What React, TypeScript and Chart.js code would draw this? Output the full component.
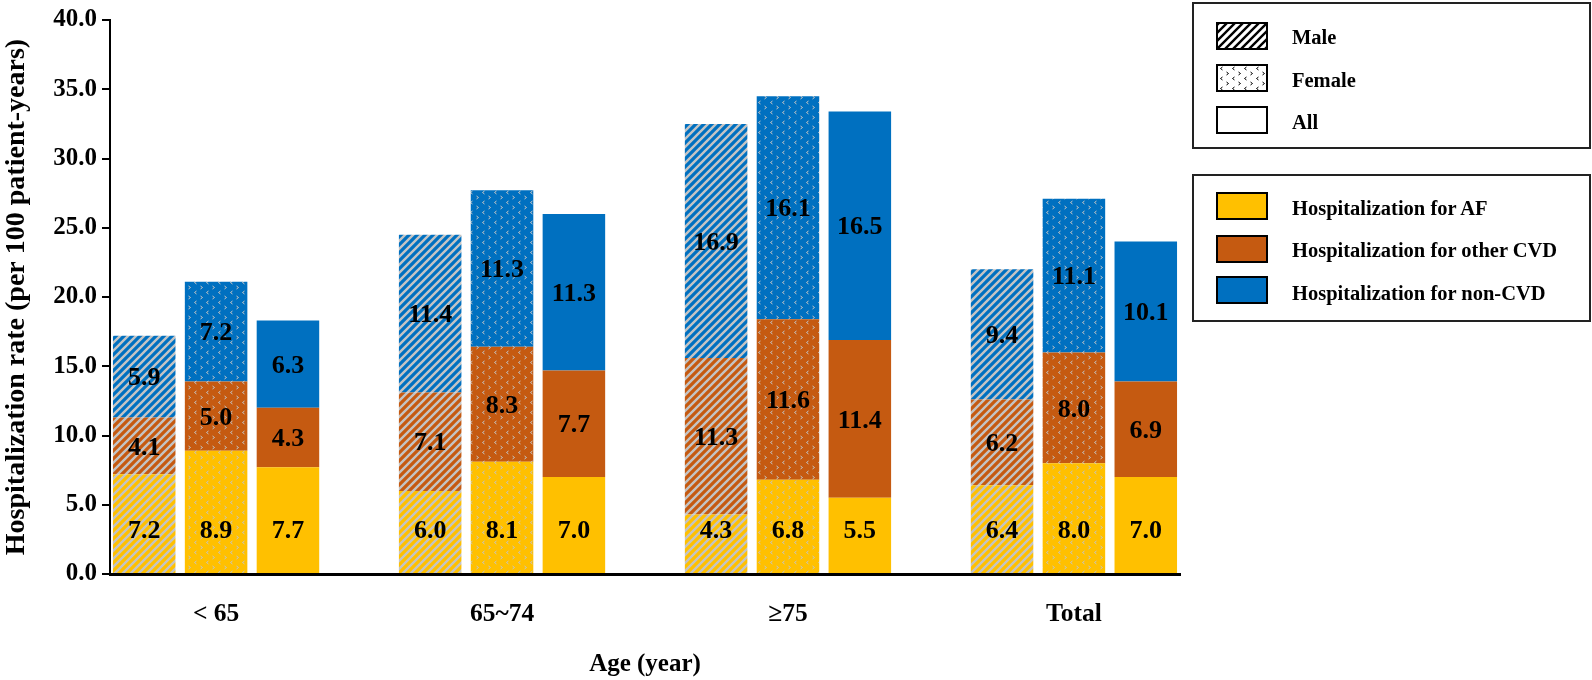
import React, { useEffect, useRef, useMemo } from 'react';
import { Chart, registerables } from 'chart.js';

Chart.register(...registerables);

const categories = ['< 65', '65~74', '≥75', 'Total'];
const sexGroups = ['Male', 'Female', 'All'];
const causeLabels = ['Hospitalization for AF', 'Hospitalization for other CVD', 'Hospitalization for non-CVD'];
const causeColors = ['#FFC000', '#C55A11', '#0070C0'];

const maleAF = [7.2, 6.0, 4.3, 6.4];
const maleOtherCVD = [4.1, 7.1, 11.3, 6.2];
const maleNonCVD = [5.9, 11.4, 16.9, 9.4];
const femaleAF = [8.9, 8.1, 6.8, 8.0];
const femaleOtherCVD = [5.0, 8.3, 11.6, 8.0];
const femaleNonCVD = [7.2, 11.3, 16.1, 11.1];
const allAF = [7.7, 7.0, 5.5, 7.0];
const allOtherCVD = [4.3, 7.7, 11.4, 6.9];
const allNonCVD = [6.3, 11.3, 16.5, 10.1];

const yMin = 0;
const yMax = 40;
const yStep = 5;

const seriesBySex = [
  [maleAF, maleOtherCVD, maleNonCVD],
  [femaleAF, femaleOtherCVD, femaleNonCVD],
  [allAF, allOtherCVD, allNonCVD],
];

const FONT = '"Liberation Serif", "Times New Roman", serif';

function makeTile(kind: string, base: string, mark: string): HTMLCanvasElement {
  const c = document.createElement('canvas');
  if (kind === 'hatch') {
    c.width = 8;
    c.height = 8;
    const g = c.getContext('2d')!;
    g.fillStyle = base;
    g.fillRect(0, 0, 8, 8);
    g.strokeStyle = mark;
    g.lineWidth = 2.4;
    g.beginPath();
    g.moveTo(-4, 4); g.lineTo(4, -4);
    g.moveTo(0, 8); g.lineTo(8, 0);
    g.moveTo(4, 12); g.lineTo(12, 4);
    g.stroke();
  } else if (kind === 'dots') {
    c.width = 12;
    c.height = 10;
    const g = c.getContext('2d')!;
    g.fillStyle = base;
    g.fillRect(0, 0, 12, 10);
    g.strokeStyle = mark;
    g.lineWidth = 1;
    g.beginPath();
    g.moveTo(4.5, 1); g.lineTo(2.5, 2.5); g.lineTo(4.5, 4);
    g.moveTo(8.5, 6); g.lineTo(10.5, 7.5); g.lineTo(8.5, 9);
    g.stroke();
  } else {
    c.width = 4;
    c.height = 4;
    const g = c.getContext('2d')!;
    g.fillStyle = base;
    g.fillRect(0, 0, 4, 4);
  }
  return c;
}

const labelPlugin = {
  id: 'segmentLabels',
  afterDatasetsDraw(chart: any) {
    const ctx = chart.ctx;
    ctx.save();
    ctx.font = `bold 26px ${FONT}`;
    ctx.fillStyle = '#000';
    ctx.textAlign = 'center';
    ctx.textBaseline = 'middle';
    chart.data.datasets.forEach((ds: any, i: number) => {
      const meta = chart.getDatasetMeta(i);
      meta.data.forEach((el: any, j: number) => {
        const v = ds.data[j].y;
        const p = el.getProps(['x', 'y', 'base'], true);
        // bottom segment labels sit at the inside base, others centred
        const yPos = ds.labelAnchor === 'insideBase' ? p.base - 42 : (p.y + p.base) / 2 + 2;
        ctx.fillText(v.toFixed(1), p.x, yPos);
      });
    });
    ctx.restore();
  },
};

export default function App() {
  const ref = useRef<HTMLCanvasElement | null>(null);

  const swatches = useMemo(() => {
    const hatch = makeTile('hatch', '#ffffff', '#000000').toDataURL();
    const dots = makeTile('dots', '#ffffff', '#000000').toDataURL();
    return { hatch, dots };
  }, []);

  useEffect(() => {
    if (!ref.current) return;
    const kinds = ['hatch', 'dots', 'solid'];
    const datasets: any[] = [];
    const ctx2 = ref.current.getContext('2d')!;
    seriesBySex.forEach((causes, si) => {
      causes.forEach((vals, ci) => {
        const tile = makeTile(kinds[si], causeColors[ci], '#C4C4C4');
        const pat = kinds[si] === 'solid' ? causeColors[ci] : ctx2.createPattern(tile, 'repeat');
        datasets.push({
          label: `${sexGroups[si]} - ${causeLabels[ci]}`,
          stack: sexGroups[si],
          data: vals.map((v, k) => ({ x: k, y: v })),
          backgroundColor: pat,
          borderWidth: 0,
          categoryPercentage: 0.754,
          barPercentage: 0.87,
          labelAnchor: ci === 0 ? 'insideBase' : 'center',
        });
      });
    });

    const chart = new Chart(ref.current, {
      type: 'bar',
      data: { datasets },
      options: {
        responsive: false,
        animation: false,
        layout: { padding: { top: 16, right: 412, left: 0, bottom: 0 } },
        plugins: { legend: { display: false }, tooltip: { enabled: false } },
        scales: {
          x: {
            type: 'linear',
            min: -0.371,
            max: 3.371,
            offset: false,
            grid: { display: false, drawTicks: false },
            border: { display: true, color: '#000', width: 3 },
            afterBuildTicks: (s: any) => {
              s.ticks = categories.map((_, i) => ({ value: i }));
            },
            afterFit: (s: any) => {
              s.height = 106;
            },
            ticks: {
              autoSkip: false,
              maxRotation: 0,
              padding: 25,
              color: '#000',
              font: { family: FONT, size: 25.5, weight: 'bold' },
              callback: (v: any) => categories[Number(v)] ?? '',
            },
            title: {
              display: true,
              text: 'Age (year)',
              color: '#000',
              font: { family: FONT, size: 25, weight: 'bold' },
              padding: { top: 0, bottom: 0 },
            },
          },
          y: {
            min: yMin,
            max: yMax,
            stacked: true,
            grid: { drawOnChartArea: false, drawTicks: true, tickLength: 8, color: '#000', lineWidth: 2 },
            border: { display: true, color: '#000', width: 2 },
            afterFit: (s: any) => {
              s.width = 110;
            },
            ticks: {
              stepSize: yStep,
              padding: 5,
              color: '#000',
              font: { family: FONT, size: 25, weight: 'bold' },
              callback: (v: any) => Number(v).toFixed(1),
            },
            title: {
              display: true,
              text: 'Hospitalization rate (per 100 patient-years)',
              color: '#000',
              font: { family: FONT, size: 28, weight: 'bold' },
              padding: { top: 0, bottom: 0 },
            },
          },
        },
      } as any,
      plugins: [labelPlugin],
    });
    return () => chart.destroy();
  }, []);

  const textStyle = (cy: number): React.CSSProperties => ({
    position: 'absolute',
    left: 1292,
    top: cy - 12,
    height: 24,
    lineHeight: '24px',
    fontFamily: FONT,
    fontWeight: 'bold',
    fontSize: 20.5,
    color: '#000',
    whiteSpace: 'nowrap',
  });
  const swStyle = (top: number, bg: string, img?: string): React.CSSProperties => ({
    position: 'absolute',
    left: 1216,
    top,
    width: 52,
    height: 28,
    boxSizing: 'border-box',
    border: '2px solid #000',
    backgroundColor: bg,
    backgroundImage: img ? `url(${img})` : undefined,
  });
  const boxStyle = (top: number, height: number): React.CSSProperties => ({
    position: 'absolute',
    left: 1192,
    top,
    width: 399,
    height,
    boxSizing: 'border-box',
    border: '2px solid #222',
  });

  return (
    <div style={{ position: 'absolute', left: 0, top: 0, width: 1592, height: 680, background: '#fff', overflow: 'hidden' }}>
      <canvas ref={ref} width={1592} height={680} style={{ position: 'absolute', left: 0, top: 0, width: 1592, height: 680 }} />
      <div style={boxStyle(2, 147)} />
      <div style={swStyle(21.5, '#fff', swatches.hatch)} />
      <div style={textStyle(36.7)}>Male</div>
      <div style={swStyle(63.5, '#fff', swatches.dots)} />
      <div style={textStyle(80)}>Female</div>
      <div style={swStyle(106, '#fff')} />
      <div style={textStyle(121.7)}>All</div>

      <div style={boxStyle(174, 148)} />
      <div style={swStyle(191.5, causeColors[0])} />
      <div style={textStyle(208)}>{causeLabels[0]}</div>
      <div style={swStyle(235, causeColors[1])} />
      <div style={textStyle(250)}>{causeLabels[1]}</div>
      <div style={swStyle(276, causeColors[2])} />
      <div style={textStyle(293)}>{causeLabels[2]}</div>
    </div>
  );
}
